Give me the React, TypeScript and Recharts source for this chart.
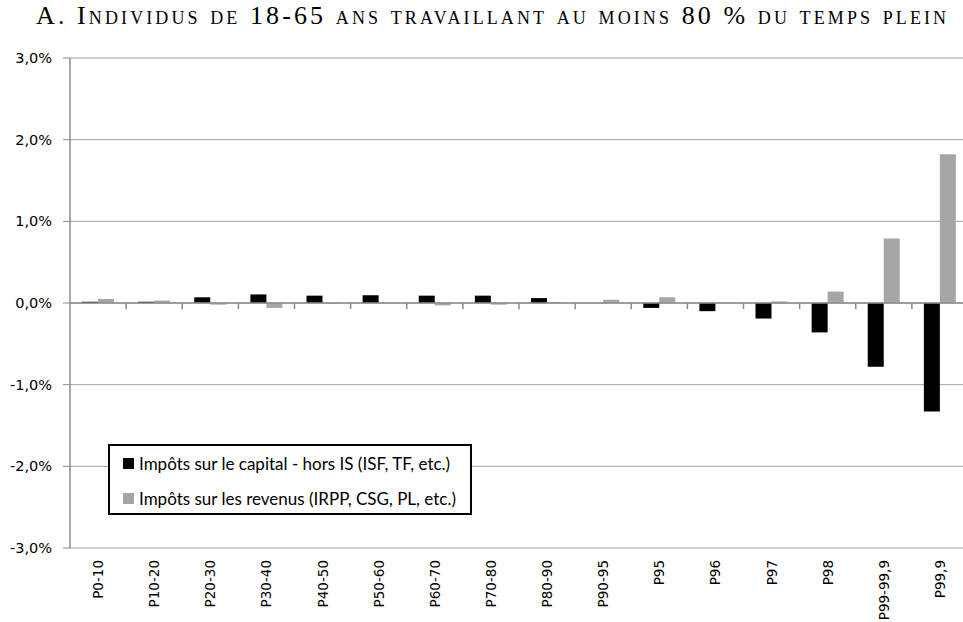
import React from 'react';
import { BarChart, Bar, XAxis, YAxis, CartesianGrid, ReferenceLine } from 'recharts';

const categories = ['P0-10', 'P10-20', 'P20-30', 'P30-40', 'P40-50', 'P50-60', 'P60-70', 'P70-80', 'P80-90', 'P90-95', 'P95', 'P96', 'P97', 'P98', 'P99-99,9', 'P99,9'];
const capitalTax = [0.015, 0.015, 0.07, 0.105, 0.09, 0.095, 0.09, 0.09, 0.06, 0.0, -0.06, -0.1, -0.19, -0.36, -0.78, -1.33];
const incomeTax = [0.05, 0.03, -0.02, -0.06, -0.01, -0.005, -0.03, -0.02, 0.01, 0.04, 0.07, 0.005, 0.02, 0.14, 0.79, 1.82];
const yTicks = [-3, -2, -1, 0, 1, 2, 3];
const seriesNames = ['Impôts sur le capital - hors IS (ISF, TF, etc.)', 'Impôts sur les revenus (IRPP, CSG, PL, etc.)'];
const title = 'A. Individus de 18-65 ans travaillant au moins 80 % du temps plein';

const data = categories.map((c, i) => ({ cat: c, capital: capitalTax[i], revenus: incomeTax[i] }));

const BLACK = '#000000';
const GREY = '#a6a6a6';
const AXIS = '#8c8c8c';
const TICK_FONT = 'DejaVu Sans, Verdana, sans-serif';

const fmt = (v: number) => `${v.toFixed(1).replace('.', ',')}%`;

const LegendBox = () => (
  <div style={{ position: 'absolute', left: 108, top: 444, border: '2px solid #000', background: '#fff', width: 364, height: 71, boxSizing: 'border-box', fontFamily: 'Lato, "Open Sans", sans-serif', fontSize: 17, color: '#000', paddingLeft: 13, paddingTop: 2 }}>
    {[BLACK, GREY].map((col, i) => (
      <div key={i} style={{ display: 'flex', alignItems: 'center', height: 30, marginBottom: i === 0 ? 5 : 0 }}>
        <span style={{ display: 'inline-block', width: 11, height: 11, background: col, marginRight: 5 }} />
        <span>{seriesNames[i]}</span>
      </div>
    ))}
  </div>
);

const XTick = (props: any) => {
  const { x, y, payload } = props;
  return (
    <text x={x} y={y} transform={`rotate(-90, ${x}, ${y})`} textAnchor="end" dominantBaseline="central" fontFamily={TICK_FONT} fontSize={13.5} fill="#000">
      {payload.value}
    </text>
  );
};

export default function App() {
  return (
    <div style={{ position: 'absolute', left: 0, top: 0, width: 963, height: 622, overflow: 'hidden', background: '#fff' }}>
      <div style={{ position: 'absolute', left: 36, top: 1, whiteSpace: 'nowrap', fontFamily: '"Liberation Serif", "DejaVu Serif", serif', fontVariant: 'small-caps', fontSize: 26, letterSpacing: 3.1, color: '#000' }}>
        {title}
      </div>
      <BarChart width={970} height={622} data={data} margin={{ top: 58, right: 2, bottom: 0, left: 0 }} barGap={0} barSize={16}>
        <CartesianGrid horizontal vertical={false} stroke="#a0a0a0" strokeWidth={1} />
        <XAxis dataKey="cat" axisLine={false} tickLine={false} tickSize={0} tickMargin={12} height={74} interval={0} tick={<XTick />} />
        <YAxis domain={[-3, 3]} ticks={yTicks} tickFormatter={fmt} width={70} axisLine={{ stroke: AXIS, strokeWidth: 1.5 }} tickLine={{ stroke: AXIS }} tickSize={7} tickMargin={11} tick={{ fontFamily: TICK_FONT, fontSize: 14.5, fill: '#000' }} interval={0} />
        <ReferenceLine y={0} stroke={AXIS} strokeWidth={1.5} />
        {categories.slice(1).map((c) => (
          <ReferenceLine key={c} segment={[{ x: c, y: 0 }, { x: c, y: -0.075 }]} position="start" stroke={AXIS} strokeWidth={1.5} />
        ))}
        <Bar dataKey="capital" name={seriesNames[0]} fill={BLACK} isAnimationActive={false} />
        <Bar dataKey="revenus" name={seriesNames[1]} fill={GREY} isAnimationActive={false} />
      </BarChart>
      <LegendBox />
    </div>
  );
}
